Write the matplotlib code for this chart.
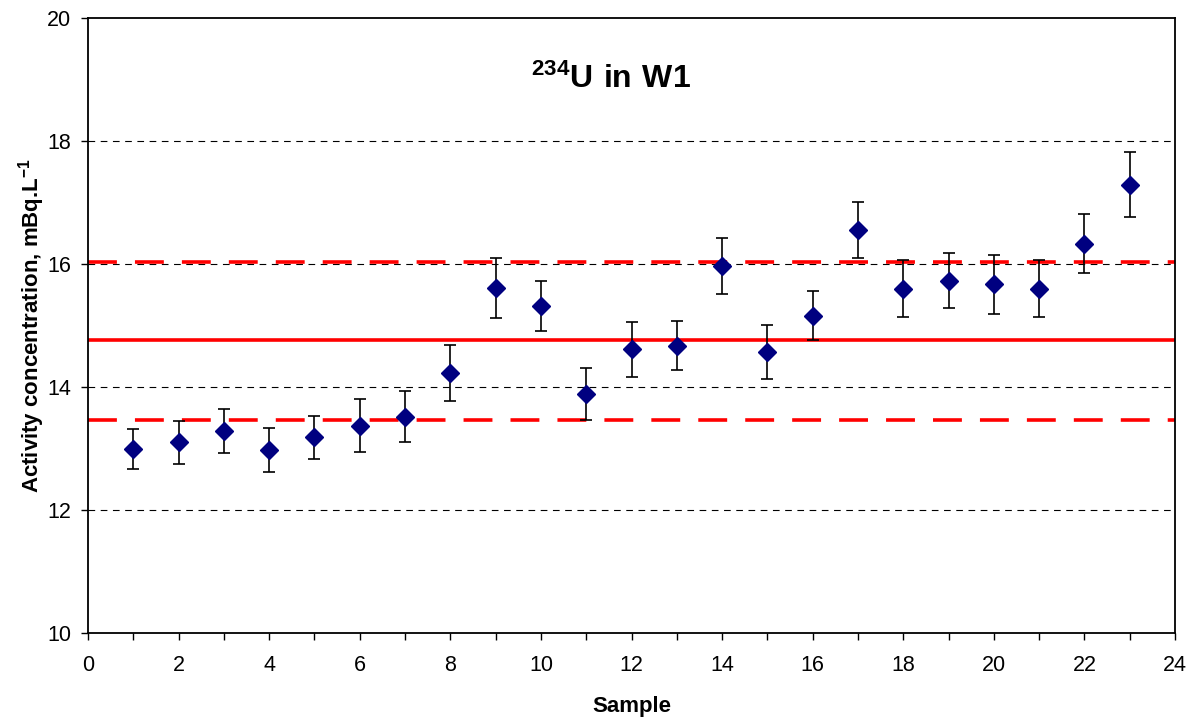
import matplotlib
matplotlib.use('Agg')
import matplotlib.pyplot as plt

plt.rcParams['font.family'] = ['Liberation Sans', 'DejaVu Sans']
plt.rcParams['mathtext.fontset'] = 'custom'
plt.rcParams['mathtext.rm'] = 'Liberation Sans'
plt.rcParams['mathtext.bf'] = 'Liberation Sans:bold'

# data
samples = list(range(1, 24))
activity = [12.99, 13.10, 13.28, 12.98, 13.18, 13.37, 13.52, 14.23, 15.61, 15.32,
            13.89, 14.61, 14.67, 15.96, 14.57, 15.16, 16.55, 15.60, 15.73, 15.67,
            15.60, 16.33, 17.29]
uncert = [0.33, 0.35, 0.36, 0.36, 0.35, 0.43, 0.41, 0.45, 0.49, 0.41,
          0.42, 0.44, 0.40, 0.455, 0.435, 0.40, 0.46, 0.46, 0.45, 0.48,
          0.46, 0.48, 0.53]
ref_value = 14.76
ref_low = 13.47
ref_high = 16.04

fig = plt.figure(figsize=(11.91, 7.19), dpi=100)
ax = fig.add_axes([0.0739, 0.1196, 0.9127, 0.8554])

ax.set_xlim(0, 24)
ax.set_ylim(10, 20)

for y in [12, 14, 16, 18]:
    ax.axhline(y, color='black', lw=0.8, ls=(0, (6, 5)), zorder=1)

ax.axhline(ref_value, color='#ff0000', lw=2.6, zorder=2)
ax.axhline(ref_low, color='#ff0000', lw=2.6, ls=(0, (8, 5)), zorder=2)
ax.axhline(ref_high, color='#ff0000', lw=2.6, ls=(0, (8, 5)), zorder=2)

ax.errorbar(samples, activity, yerr=uncert, fmt='D', color='#000080', ms=9.5,
            ecolor='black', elinewidth=1.2, capsize=4, capthick=1.2, zorder=3)

ax.set_xticks(range(0, 25, 2))
ax.set_xticks(range(0, 25, 1), minor=True)
ax.set_yticks(range(10, 21, 2))
ax.tick_params(axis='both', which='both', direction='out', labelsize=15.5, width=1, length=5)
ax.tick_params(axis='x', which='major', pad=11)
ax.tick_params(axis='y', which='major', pad=7)
ax.tick_params(axis='y', which='minor', left=False)

for s in ax.spines.values():
    s.set_linewidth(1.3)

ax.set_xlabel('Sample', fontsize=16, fontweight='bold', labelpad=14)
ax.set_ylabel(r'Activity concentration, mBq.L$^{\mathbf{-1}}$', fontsize=16,
              fontweight='bold', labelpad=0)

ax.text(11.55, 19.0, r'$\mathbf{^{234}U\ in\ W1}$', fontsize=23, ha='center', va='center')

fig.savefig('out.png', dpi=100)
